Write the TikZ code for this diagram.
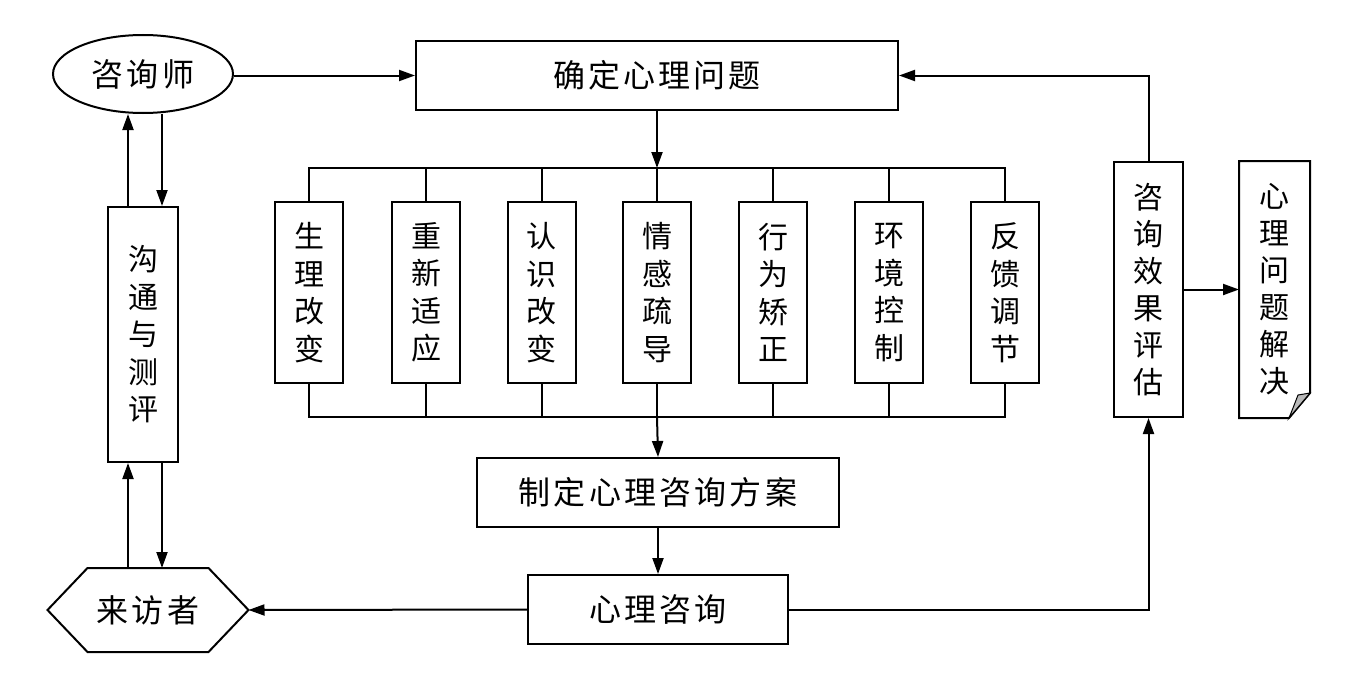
\documentclass[tikz,border=0pt]{standalone}
\usepackage{fontspec}
\setmainfont{Noto Sans CJK SC}
\newfontfamily\hfont[LetterSpace=10]{Noto Sans CJK SC}
\usetikzlibrary{shapes.geometric,arrows.meta,calc}
\begin{document}
\begin{tikzpicture}[x=1pt,y=-1pt,
  line width=2pt,
  arr/.style={-{Triangle[length=16pt,width=11pt]}},
  hbox/.style={draw,rectangle,inner sep=0pt,font=\hfont\fontsize{32}{38}\selectfont},
  vbox/.style={draw,rectangle,inner sep=0pt,align=center,font=\fontsize{30}{37.5}\selectfont,minimum width=68pt,minimum height=181pt},
  tall/.style={rectangle,inner sep=0pt,align=center,font=\fontsize{30}{37}\selectfont,minimum width=69pt,minimum height=255pt},
]
\useasboundingbox (0,0) rectangle (1359,685);
% nodes
\node[draw,ellipse,minimum width=180pt,minimum height=78pt,inner sep=0pt,font=\hfont\fontsize{32}{38}\selectfont] (couns) at (143,74) {咨询师};
\node[hbox,minimum width=482pt,minimum height=69pt] (define) at (657,75.5) {确定心理问题};
\node[vbox,minimum width=70pt,minimum height=255pt] (comm) at (143,334.5) {沟\\通\\与\\测\\评};
\node[rectangle,minimum width=199pt,minimum height=82pt,inner sep=0pt,font=\hfont\fontsize{32}{38}\selectfont] (visitor) at (148,610) {来访者};
\draw ($(visitor.west)$) -- ($(visitor.north west)+(40,0)$) -- ($(visitor.north east)+(-40,0)$) -- (visitor.east) -- ($(visitor.south east)+(-40,0)$) -- ($(visitor.south west)+(40,0)$) -- cycle;
\node[vbox] (b1) at (309,292.5) {生\\理\\改\\变};
\node[vbox] (b2) at (426,292.5) {重\\新\\适\\应};
\node[vbox] (b3) at (541.5,292.5) {认\\识\\改\\变};
\node[vbox] (b4) at (657,292.5) {情\\感\\疏\\导};
\node[vbox] (b5) at (773,292.5) {行\\为\\矫\\正};
\node[vbox] (b6) at (889,292.5) {环\\境\\控\\制};
\node[vbox] (b7) at (1005,292.5) {反\\馈\\调\\节};
\node[hbox,minimum width=362pt,minimum height=69pt] (plan) at (658,492.5) {制定心理咨询方案};
\node[hbox,minimum width=260pt,minimum height=69pt] (consult) at (658,609.5) {心理咨询};
\node[draw,tall] (eval) at (1148.5,289.5) {咨\\询\\效\\果\\评\\估};
\node[tall] (solve) at (1274.5,289.5) {心\\理\\问\\题\\解\\决};
\draw (solve.north west) -- (solve.north east) -- ($(solve.south east)+(0,-25)$) -- ($(solve.south east)+(-21,0)$) -- (solve.south west) -- cycle;
\draw[line width=1pt,fill=gray!55] ($(solve.south east)+(0,-25)$) -- ($(solve.south east)+(-21,0)$) .. controls ($(solve.south east)+(-17,-10)$) .. ($(solve.south east)+(-12,-23)$) -- cycle;
% connectors
\coordinate (tb) at (657,168);
\coordinate (bb) at (657,417);
\coordinate (cl) at ([xshift=-15pt]comm.south);
\coordinate (cr) at ([xshift=19pt]comm.south);
\draw[arr] (couns.east |- define.west) -- (define.west);
\draw[arr] (cl |- comm.north) -- (cl |- couns.south);
\draw[arr] (cr |- couns.south) -- (cr |- comm.north);
\draw[arr] (cl |- visitor.north) -- (cl);
\draw[arr] (cr) -- (cr |- visitor.north);
\draw[arr] (define.south) -- (tb);
\draw (b1.north) -- (b1.north |- tb) -- (b7.north |- tb) -- (b7.north);
\foreach \b in {b2,b3,b4,b5,b6} \draw (\b.north) -- (\b.north |- tb);
\draw (b1.south) -- (b1.south |- bb) -- (b7.south |- bb) -- (b7.south);
\foreach \b in {b2,b3,b4,b5,b6} \draw (\b.south) -- (\b.south |- bb);
\draw[arr] (bb) -- (plan.north);
\draw[arr] (plan.south) -- (consult.north);
\draw[arr] (consult.west) -- (visitor.east);
\draw[arr] (consult.east) -| (eval.south);
\draw[arr] (eval.north) |- (define.east);
\draw[arr] (eval.east) -- (eval.east -| solve.west);
\end{tikzpicture}
\end{document}
